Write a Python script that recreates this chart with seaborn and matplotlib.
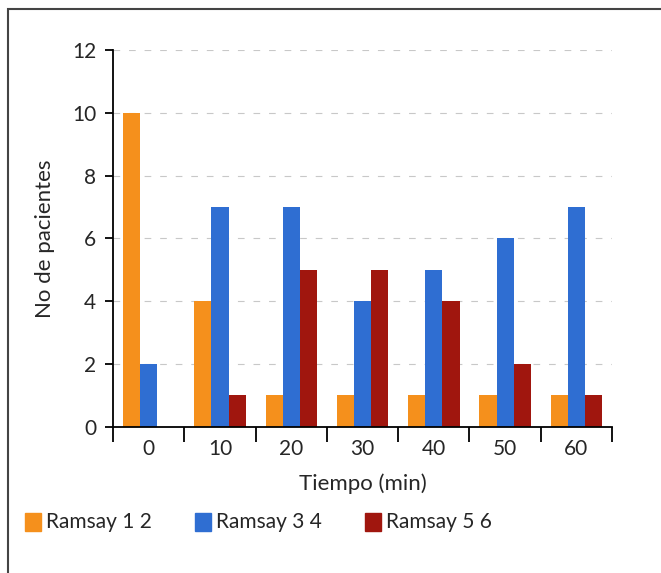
import numpy as np
import pandas as pd
import seaborn as sns
import matplotlib.pyplot as plt
from matplotlib.patches import Rectangle

tiempos = ["0", "10", "20", "30", "40", "50", "60"]
series = ["Ramsay 1 2", "Ramsay 3 4", "Ramsay 5 6"]
ramsay_12 = [10, 4, 1, 1, 1, 1, 1]
ramsay_34 = [2, 7, 7, 4, 5, 6, 7]
ramsay_56 = [0, 1, 5, 5, 4, 2, 1]
colores = ["#F5901C", "#2F6ED2", "#A0160E"]

df = pd.DataFrame({
    "Tiempo": tiempos * 3,
    "Serie": np.repeat(series, len(tiempos)),
    "Pacientes": ramsay_12 + ramsay_34 + ramsay_56,
})

sns.set_style("white")
plt.rcParams["font.family"] = ["Lato", "DejaVu Sans"]

fig = plt.figure(figsize=(6.61, 5.73), dpi=100)
ax = fig.add_axes([0.171, 0.255, 0.755, 0.658])

sns.barplot(data=df, x="Tiempo", y="Pacientes", hue="Serie",
            palette=colores, width=0.72, gap=0, saturation=1,
            linewidth=0, ax=ax, legend=False)

ax.set_ylim(0, 12)
ax.set_xlim(-0.5, 6.5)
ax.set_yticks(range(0, 13, 2))
ax.yaxis.grid(True, linestyle=(0, (6, 8)), color="#c8c8c8", linewidth=0.8)
ax.set_axisbelow(True)
for s in ["top", "right"]:
    ax.spines[s].set_visible(False)
for s in ["left", "bottom"]:
    ax.spines[s].set_color("black")
    ax.spines[s].set_linewidth(1.3)

# ticks on x at category boundaries
ax.set_xticks(np.arange(-0.5, 7, 1), minor=False)
ax.set_xticklabels([""] * 8)
ax.set_xticks(range(7), minor=True)
ax.set_xticklabels(tiempos, minor=True, fontsize=15)
ax.tick_params(axis="x", which="major", length=11, width=1.3, color="black",
               direction="out", bottom=True)
ax.tick_params(axis="x", which="minor", length=0, pad=9)
ax.tick_params(axis="y", length=6, width=1.3, color="black", left=True,
               labelsize=15, pad=6)

ax.set_xlabel("Tiempo (min)", fontsize=16, labelpad=10)
ax.set_ylabel("No de pacientes", fontsize=16, labelpad=12)

# legend in figure coords
leg_x = [25, 195, 365]
for x0, lab, c in zip(leg_x, series, colores):
    fig.patches.append(Rectangle((x0 / 661, 1 - 531 / 573), 16 / 661, 18 / 573,
                                 transform=fig.transFigure, color=c))
    fig.text((x0 + 21) / 661, 1 - 522 / 573, lab, fontsize=15, va="center")

# frame around figure
fig.patches.append(Rectangle((8 / 661, -0.05), 1.0, 1 - 9 / 573 + 0.05,
                             transform=fig.transFigure, fill=False,
                             edgecolor="#444444", linewidth=1.5))

fig.savefig("out.png", dpi=100)
